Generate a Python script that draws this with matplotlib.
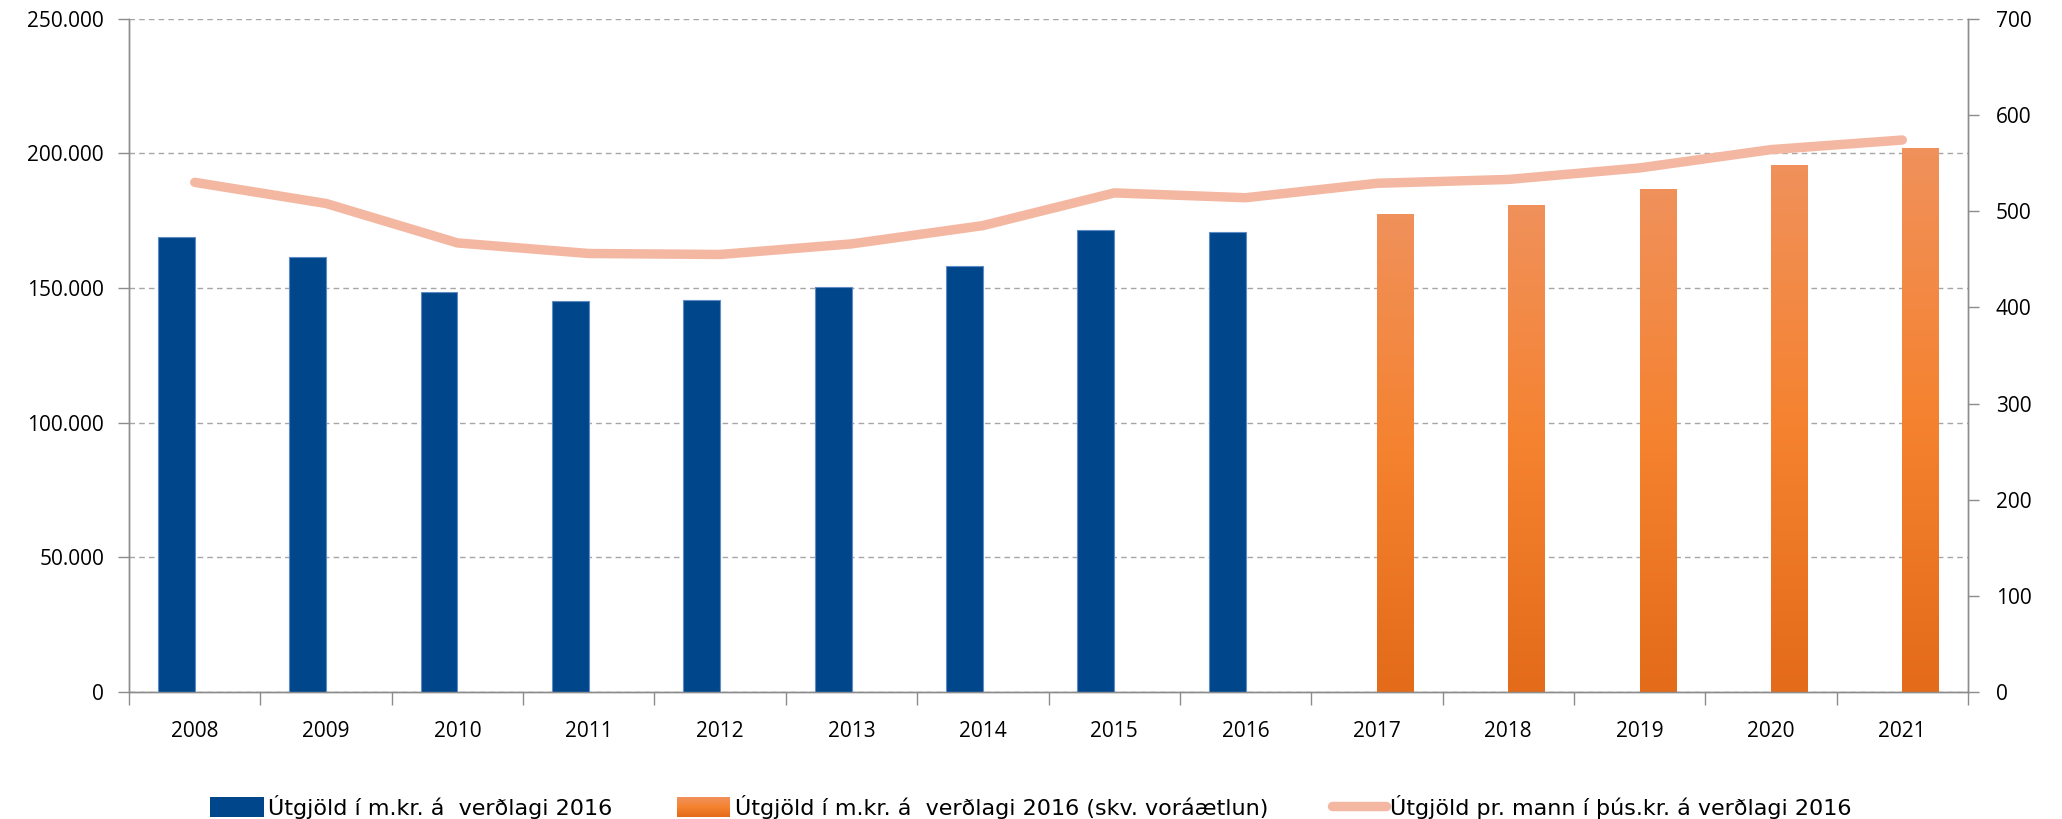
import matplotlib
matplotlib.use("Agg")
import matplotlib.pyplot as plt
import numpy as np
from matplotlib.colors import LinearSegmentedColormap
from matplotlib.patches import Rectangle
from matplotlib.lines import Line2D
from matplotlib.legend_handler import HandlerBase

# Data
years = ["2008", "2009", "2010", "2011", "2012", "2013", "2014",
         "2015", "2016", "2017", "2018", "2019", "2020", "2021"]
actual = [169100, 161600, 148400, 145100, 145600, 150600, 158400,
          171700, 170700, None, None, None, None, None]
plan = [None, None, None, None, None, None, None, None, None,
        177600, 180900, 186900, 195800, 201900]
per_capita = [530, 508, 467, 456, 455, 466, 485, 519, 514,
              529, 533, 545, 564, 574]

left_ticks = [0, 50000, 100000, 150000, 200000, 250000]
left_ticklabels = ["0", "50.000", "100.000", "150.000", "200.000", "250.000"]
right_ticks = [0, 100, 200, 300, 400, 500, 600, 700]

labels = ["Útgjöld í m.kr. á  verðlagi 2016",
          "Útgjöld í m.kr. á  verðlagi 2016 (skv. voráætlun)",
          "Útgjöld pr. mann í þús.kr. á verðlagi 2016"]

BLUE = "#00468B"
LINE = "#F4B7A2"
ORANGE_STOPS = ["#E36B1A", "#F5822F", "#F0915B"]
GRID = "#A6A6A6"
AXC = "#8C8C8C"

plt.rcParams["font.family"] = ["Open Sans", "DejaVu Sans"]

fig = plt.figure(figsize=(20.62, 8.19), dpi=100)
ax = fig.add_axes([0.0626, 0.155, 0.8918, 0.822])
ax2 = ax.twinx()

x = np.arange(len(years))
w = 0.28
cmap = LinearSegmentedColormap.from_list("og", ORANGE_STOPS)

# Bars
for i, v in enumerate(actual):
    if v is not None:
        ax.bar(x[i] - w / 2, v, width=w, color=BLUE, edgecolor="#5F8CC4",
               linewidth=0.8, zorder=3)
grad = np.linspace(0, 1, 256).reshape(-1, 1)
for i, v in enumerate(plan):
    if v is not None:
        bar = ax.bar(x[i] + w / 2, v, width=w, color="none", linewidth=0,
                     zorder=3)[0]
        im = ax.imshow(grad, cmap=cmap, origin="lower", aspect="auto",
                       extent=(x[i], x[i] + w, 0, v), zorder=3)
        im.set_clip_path(bar)

# Line on secondary axis
ax2.plot(x, per_capita, color=LINE, linewidth=6.8, solid_capstyle="round",
         solid_joinstyle="round", zorder=4)

# Axes limits and ticks
ax.set_xlim(-0.5, len(years) - 0.5)
ax.set_ylim(0, 250000)
ax2.set_ylim(0, 700)

ax.set_yticks(left_ticks)
ax.set_yticklabels(left_ticklabels)
ax2.set_yticks(right_ticks)

ax.set_xticks(np.arange(-0.5, len(years), 1.0))
ax.set_xticklabels([])
ax.set_xticks(x, minor=True)
ax.set_xticklabels(years, minor=True)
ax.tick_params(axis="x", which="major", length=9, width=1, color=AXC,
               direction="out")
ax.tick_params(axis="x", which="minor", length=0, pad=21, labelsize=15)
ax.tick_params(axis="y", length=8, width=1, color=AXC, pad=10, labelsize=15)
ax2.tick_params(axis="y", length=8, width=1, color=AXC, pad=12, labelsize=15)

ax.yaxis.grid(True, linestyle=(0, (4, 3)), color=GRID, linewidth=1)
ax.set_axisbelow(True)

for a in (ax, ax2):
    a.spines["top"].set_visible(False)
    for s in ("left", "right", "bottom"):
        a.spines[s].set_color(AXC)
        a.spines[s].set_linewidth(1)
ax.patch.set_visible(False)
ax2.set_zorder(ax.get_zorder() + 1)
ax2.patch.set_visible(False)


# Legend with gradient swatch for the plan series
class GradientHandler(HandlerBase):
    def create_artists(self, legend, orig_handle, xdescent, ydescent,
                       width, height, fontsize, trans):
        n = 20
        arts = []
        for k in range(n):
            r = Rectangle((xdescent * -1, -ydescent + height * k / n),
                          width, height / n + 0.3,
                          facecolor=cmap(k / (n - 1)), edgecolor="none",
                          transform=trans)
            arts.append(r)
        return arts


h1 = Rectangle((0, 0), 1, 1, facecolor=BLUE, edgecolor="none")
h2 = Rectangle((0, 0), 1, 1, facecolor=ORANGE_STOPS[1])
h3 = Line2D([0], [0], color=LINE, linewidth=6.8, solid_capstyle="round")
fig.legend([h1, h2, h3], labels, loc="lower center",
           bbox_to_anchor=(0.5, -0.024), ncol=3, frameon=False,
           handler_map={h2: GradientHandler()},
           prop={"family": ["Liberation Sans Narrow", "DejaVu Sans"],
                 "size": 16},
           handlelength=2.4, handleheight=1.0, handletextpad=0.2,
           columnspacing=2.9)

fig.savefig("out.png", dpi=100)
